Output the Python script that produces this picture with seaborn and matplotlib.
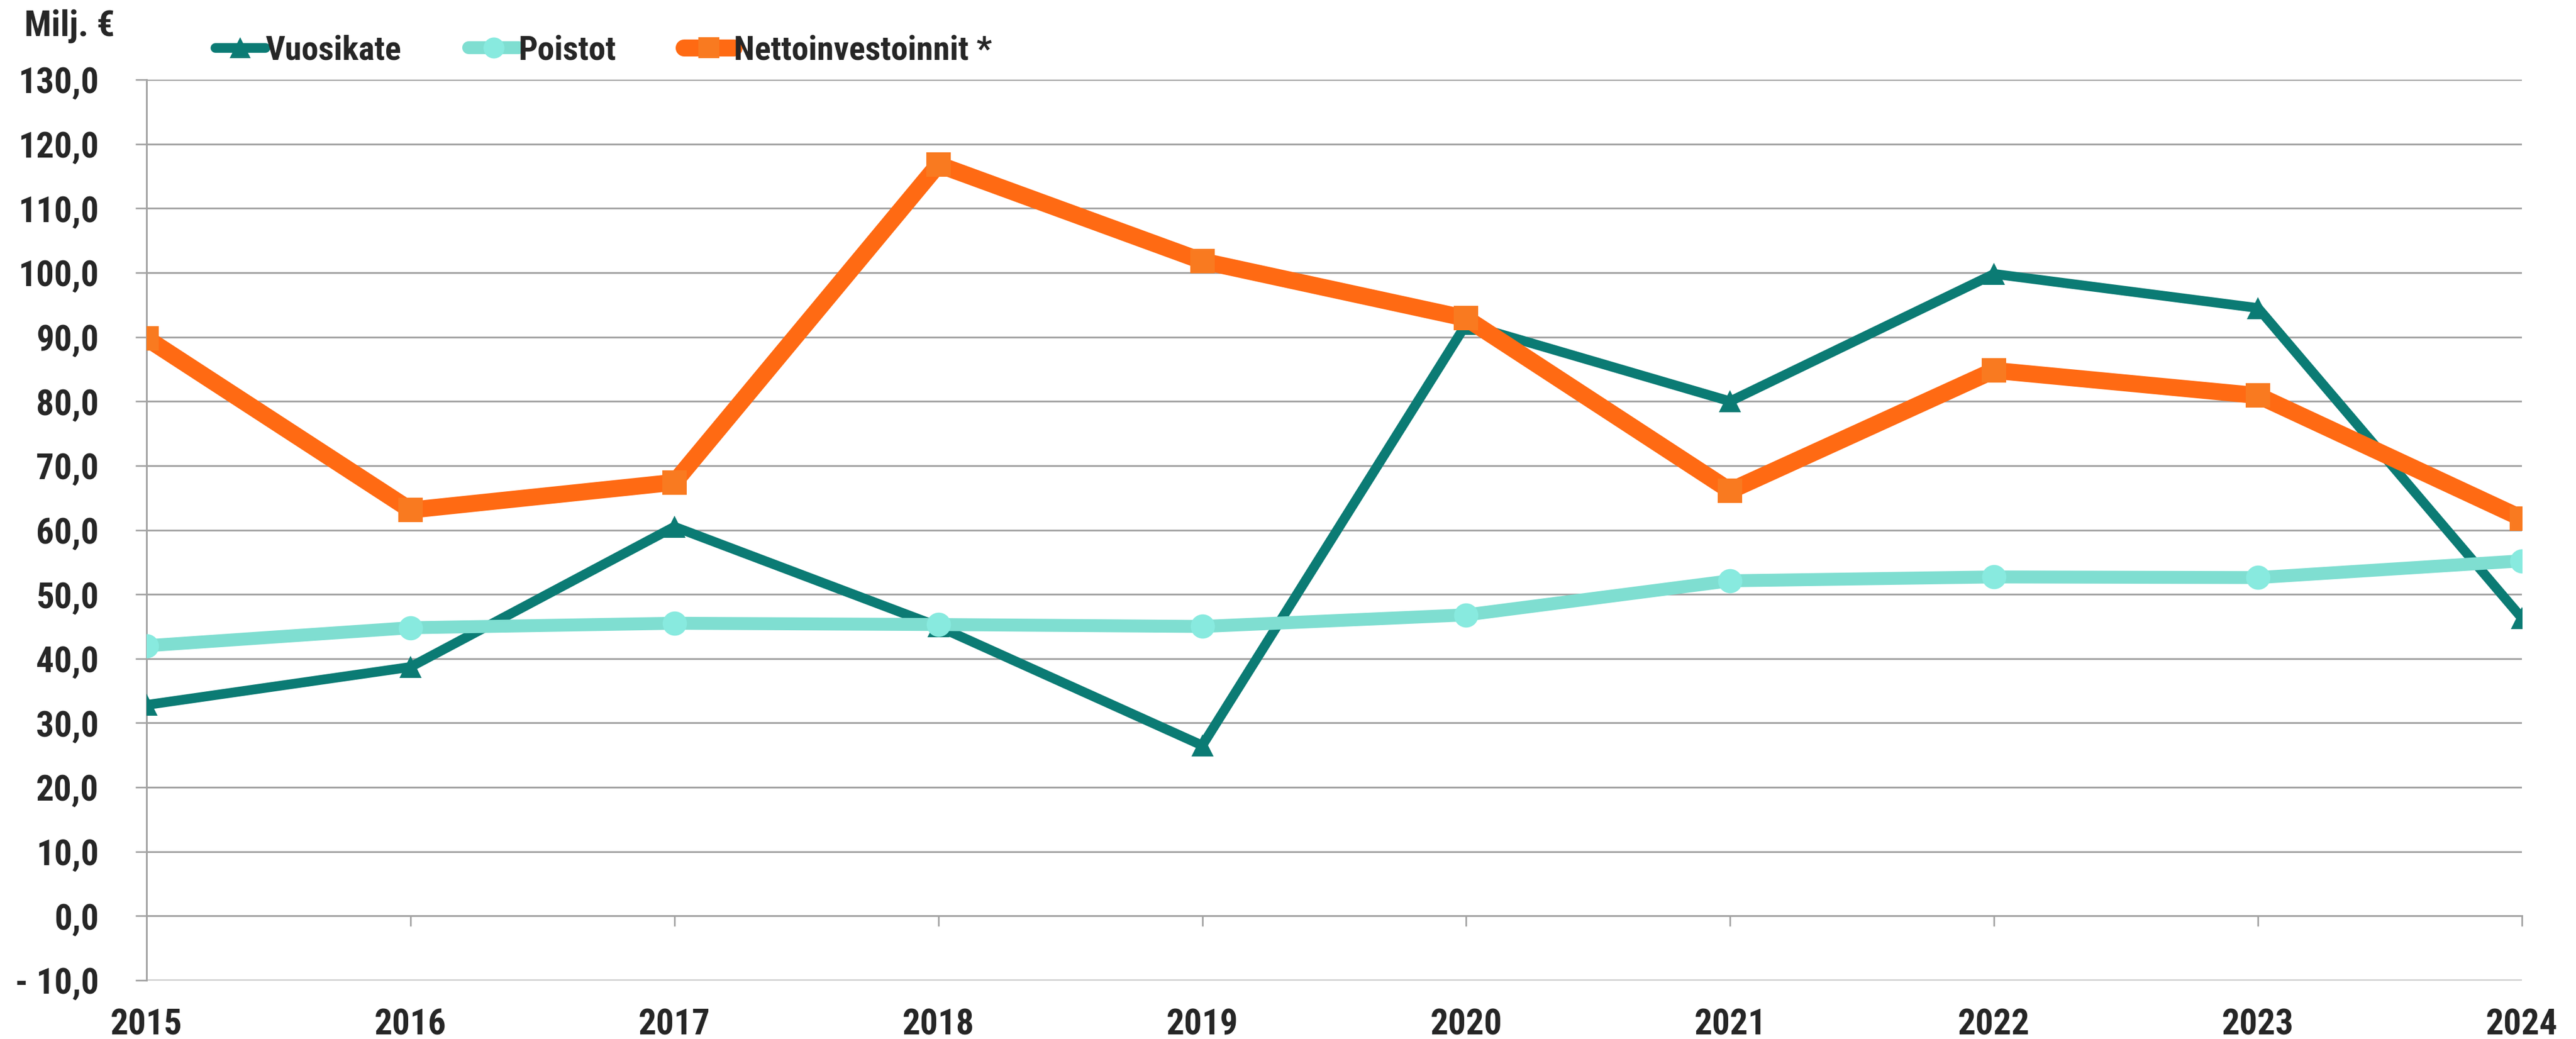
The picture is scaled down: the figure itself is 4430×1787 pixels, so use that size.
import matplotlib
matplotlib.use("Agg")
import matplotlib.pyplot as plt
from matplotlib import font_manager
import seaborn as sns
import pandas as pd
from matplotlib.ticker import FuncFormatter, FixedLocator

# ---- data ----
years = [2015, 2016, 2017, 2018, 2019, 2020, 2021, 2022, 2023, 2024]
vuosikate = [32.8, 38.7, 60.5, 45.0, 26.5, 92.0, 80.0, 99.8, 94.5, 46.3]
poistot = [42.0, 44.8, 45.5, 45.3, 45.0, 46.8, 52.1, 52.7, 52.6, 55.2]
netto = [89.8, 63.1, 67.4, 116.8, 101.8, 92.9, 66.1, 84.8, 80.9, 61.8]
series_names = ["Vuosikate", "Poistot", "Nettoinvestoinnit *"]
y_ticks = list(range(-10, 131, 10))
unit_label = "Milj. €"

sns.set_theme(style="white")

# look for an installed narrow / condensed family
narrow = None
for cand in ["Liberation Sans Narrow", "Arial Narrow", "Roboto Condensed",
             "Open Sans Condensed", "Noto Sans Condensed"]:
    if any(f.name == cand for f in font_manager.fontManager.ttflist):
        narrow = cand
        break
if narrow:
    FONT = [narrow, "Liberation Sans", "DejaVu Sans"]
    TICK_SIZE, LEG_SIZE, TITLE_SIZE = 44, 42, 44
else:
    FONT = ["Liberation Sans", "DejaVu Sans"]
    TICK_SIZE, LEG_SIZE, TITLE_SIZE = 40, 35, 38
plt.rcParams["font.family"] = FONT
plt.rcParams["font.weight"] = "bold"

W, H = 4430, 1787
fig = plt.figure(figsize=(W / 100, H / 100), dpi=100)
fig.patch.set_facecolor("white")

left, right = 252 / W, 4337 / W
bottom, top = 1 - 1686 / H, 1 - 137 / H
ax = fig.add_axes([left, bottom, right - left, top - bottom])
ax.set_facecolor("white")

GRID = "#A3A3A3"

styles = [
    dict(color="#0B7B74", lw=12, marker="^", markersize=28, mfc="#0B7B74"),
    dict(color="#7FDED1", lw=16, marker="o", markersize=30, mfc="#88EADF"),
    dict(color="#FF6A13", lw=21, marker="s", markersize=30, mfc="#F97A20"),
]
for name, vals, st in zip(series_names, [vuosikate, poistot, netto], styles):
    df = pd.DataFrame({"Vuosi": years, "Arvo": vals})
    sns.lineplot(data=df, x="Vuosi", y="Arvo", ax=ax, label=name,
                 color=st["color"], linewidth=st["lw"], marker=st["marker"],
                 markersize=st["markersize"], markerfacecolor=st["mfc"],
                 markeredgewidth=0, solid_capstyle="round", solid_joinstyle="round",
                 zorder=3)

ax.set_xlim(years[0], years[-1])
ax.set_ylim(y_ticks[0], y_ticks[-1])
ax.set_xlabel("")
ax.set_ylabel("")

# y axis
ax.yaxis.set_major_locator(FixedLocator(y_ticks))
def yfmt(v, pos):
    s = f"{abs(v):.1f}".replace(".", ",")
    return ("- " + s) if v < 0 else s
ax.yaxis.set_major_formatter(FuncFormatter(yfmt))
ax.tick_params(axis="y", direction="out", length=14, width=2, color=GRID,
               pad=45, labelsize=TICK_SIZE, left=True)
ax.grid(axis="y", color=GRID, linewidth=2.2)
ax.grid(axis="x", visible=False)

# x axis labels at bottom
ax.set_xticks(years)
ax.set_xticklabels([str(y) for y in years])
ax.tick_params(axis="x", length=0, pad=34, labelsize=TICK_SIZE)

for lab in ax.get_xticklabels() + ax.get_yticklabels():
    lab.set_fontweight("bold")
    lab.set_family(FONT)

for s in ["top", "right", "bottom"]:
    ax.spines[s].set_visible(False)
ax.spines["left"].set_color(GRID)
ax.spines["left"].set_linewidth(2.2)

# category axis line at zero with tick marks
zero_frac = (0 - y_ticks[0]) / (y_ticks[-1] - y_ticks[0])
sec = ax.secondary_xaxis(zero_frac)
sec.set_xticks(years)
sec.tick_params(axis="x", direction="out", length=13, width=2, color=GRID,
                labelbottom=False, labeltop=False)
sec.spines["bottom"].set_color(GRID)
sec.spines["bottom"].set_linewidth(2.2)
for s in ["top", "left", "right"]:
    sec.spines[s].set_visible(False)

# legend
handles, labels = ax.get_legend_handles_labels()
ax.get_legend().remove()
em = LEG_SIZE * 100 / 72.0
leg = fig.legend(handles, labels, loc="center left",
                 bbox_to_anchor=(370 / W, 1 - 87 / H), ncol=3, frameon=False,
                 handlelength=86 / em, handletextpad=0.0, columnspacing=116 / em,
                 prop={"family": FONT, "weight": "bold", "size": LEG_SIZE},
                 borderaxespad=0, borderpad=0)
for h in leg.legend_handles:
    h.set_markersize(26)

fig.text(42 / W, 1 - 61 / H, unit_label, ha="left", va="baseline",
         fontsize=TITLE_SIZE, fontweight="bold", family=FONT)

fig.savefig("out.png", dpi=100, facecolor="white")
